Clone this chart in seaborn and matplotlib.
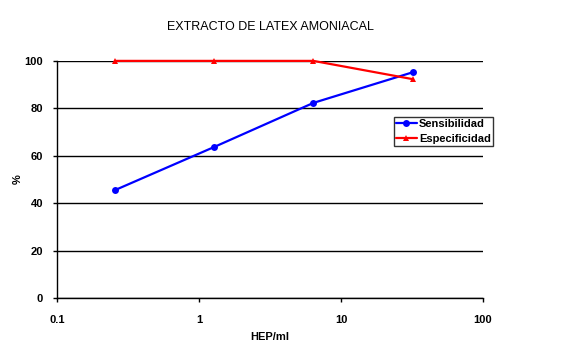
import matplotlib
matplotlib.use('Agg')
import matplotlib.pyplot as plt
import matplotlib.ticker as mticker
import seaborn as sns
import pandas as pd

hep = [0.256, 1.28, 6.4, 32]
sensibilidad = [45.5, 63.7, 82.3, 95.2]
especificidad = [100, 100, 100, 92.3]

df = pd.concat([
    pd.DataFrame({'HEP/ml': hep, '%': sensibilidad, 'serie': 'Sensibilidad'}),
    pd.DataFrame({'HEP/ml': hep, '%': especificidad, 'serie': 'Especificidad'}),
])

sns.set_style('white')
plt.rcParams['font.family'] = ['Liberation Sans', 'DejaVu Sans']
plt.rcParams['font.weight'] = 'bold'
plt.rcParams['text.color'] = 'black'
plt.rcParams['axes.labelcolor'] = 'black'
plt.rcParams['xtick.color'] = 'black'
plt.rcParams['ytick.color'] = 'black'

fig = plt.figure(figsize=(5.75, 3.54), dpi=100)
ax = fig.add_axes([0.099, 0.158, 0.741, 0.67])

sns.lineplot(data=df, x='HEP/ml', y='%', hue='serie', style='serie',
             palette={'Sensibilidad': '#0000ff', 'Especificidad': '#ff0000'},
             markers={'Sensibilidad': 'o', 'Especificidad': '^'},
             dashes=False, markersize=5, markeredgewidth=0, linewidth=1.6,
             ax=ax, zorder=3)
for ln in ax.get_lines():
    ln.set_clip_on(False)

ax.set_xscale('log')
ax.set_xlim(0.1, 100)
ax.set_ylim(0, 100)
ax.set_yticks([0, 20, 40, 60, 80, 100])
ax.xaxis.set_major_locator(mticker.FixedLocator([0.1, 1, 10, 100]))
ax.xaxis.set_major_formatter(mticker.FixedFormatter(['0.1', '1', '10', '100']))
ax.xaxis.set_minor_locator(mticker.NullLocator())
ax.yaxis.grid(True, color='black', linewidth=1)
ax.set_axisbelow(True)
for s in ['top', 'right']:
    ax.spines[s].set_visible(False)
for s in ['left', 'bottom']:
    ax.spines[s].set_color('black')
    ax.spines[s].set_linewidth(1)
ax.tick_params(axis='both', labelsize=8, length=3, width=1, color='black',
               labelcolor='black', direction='out', bottom=True, left=True)
ax.tick_params(axis='x', pad=9)
ax.tick_params(axis='y', pad=7)
ax.set_xlabel('HEP/ml', fontsize=8, fontweight='bold', color='black')
ax.xaxis.set_label_coords(0.5, -0.145)
ax.set_ylabel('%', fontsize=8, fontweight='bold', color='black')
ax.yaxis.set_label_coords(-0.08, 0.5)
ax.set_title('EXTRACTO DE LATEX AMONIACAL', fontsize=9, fontweight='normal',
             color='black', pad=22)

leg = ax.legend(title=None, loc='upper left', bbox_to_anchor=(0.79, 0.765),
                fontsize=8, frameon=True, fancybox=False, edgecolor='black',
                borderpad=0.2, handlelength=1.9, handletextpad=0.2,
                labelspacing=0.45, borderaxespad=0)
leg.get_frame().set_linewidth(1)
for t in leg.get_texts():
    t.set_color('black')

fig.savefig('out.png', dpi=100)
